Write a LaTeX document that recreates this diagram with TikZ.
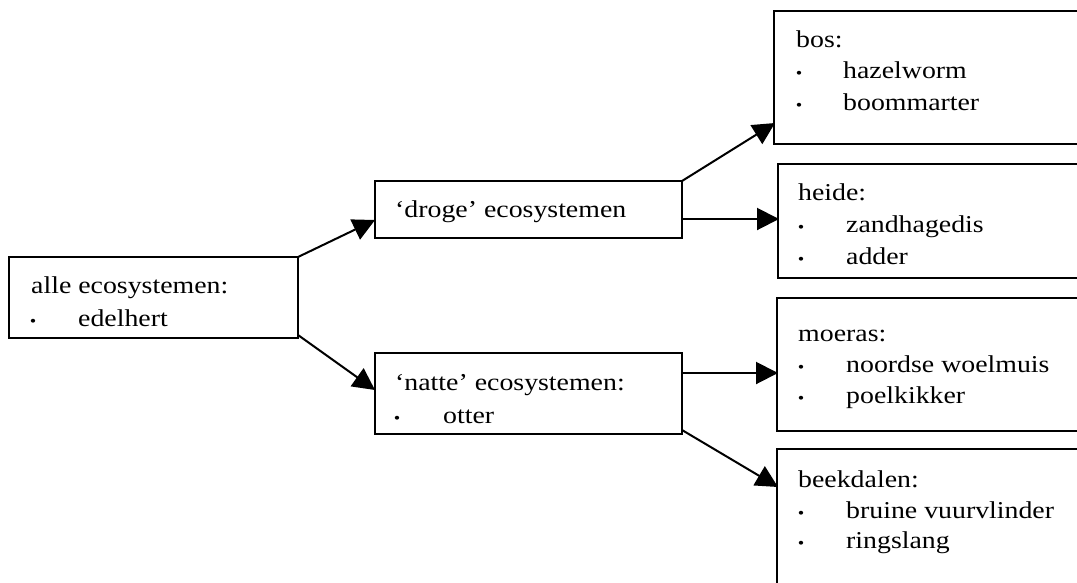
\documentclass[tikz,border=0pt]{standalone}
\usepackage{fontspec}
\setmainfont{Liberation Serif}[FakeStretch=1.15]
\usetikzlibrary{arrows.meta}
\tikzset{
  box/.style={draw=black, line width=2pt},
  lbl/.style={anchor=base west, inner sep=0pt, font=\fontsize{24.2}{28}\selectfont},
  bul/.style={anchor=base, inner sep=0pt, font=\fontsize{16}{16}\selectfont},
  arr/.style={line width=2pt, -{Triangle[length=22pt,width=22pt]}},
}
\begin{document}
\begin{tikzpicture}[x=1pt,y=-1pt]
\useasboundingbox (0,0) rectangle (1077,582);
\clip (0,0) rectangle (1077,582);
% boxes
\draw[box] (9,257) rectangle (298,338);
\draw[box] (375,181) rectangle (682,238);
\draw[box] (375,353) rectangle (682,434);
\draw[box] (774,11) rectangle (1090,144);
\draw[box] (778,164) rectangle (1090,278);
\draw[box] (777,298) rectangle (1090,431);
\draw[box] (777,449) rectangle (1090,600);
% anchor coordinates
\coordinate (aTR) at (298,257);
\coordinate (aBR) at (298,335);
\coordinate (bIn) at (375,220);
\coordinate (cIn) at (375,390);
\coordinate (bTR) at (682,181);
\coordinate (bR) at (682,219);
\coordinate (cR) at (682,373);
\coordinate (cBR) at (682,430);
\coordinate (bosIn) at (775,123);
\coordinate (heideIn) at (779,219);
\coordinate (moerasIn) at (778,373);
\coordinate (beekIn) at (778,487);
% texts
\node[lbl] (t1) at (31,293) {alle ecosystemen:};
\node[bul] (t1b) at (33,326) {•};
\node[lbl] (t1a) at (78,326) {edelhert};
\node[lbl] (t2) at (395,217) {‘droge’ ecosystemen};
\node[lbl] (t3) at (395,390) {‘natte’ ecosystemen:};
\node[bul] (t3b) at (397,423) {•};
\node[lbl] (t3a) at (443,423) {otter};
\node[lbl] (t4) at (796,47) {bos:};
\node[bul] (t4b1) at (799,78) {•};
\node[lbl] (t4a) at (843,78) {hazelworm};
\node[bul] (t4b2) at (799,110) {•};
\node[lbl] (t4c) at (843,110) {boommarter};
\node[lbl] (t5) at (798,200) {heide:};
\node[bul] (t5b1) at (801,232) {•};
\node[lbl] (t5a) at (846,232) {zandhagedis};
\node[bul] (t5b2) at (801,264) {•};
\node[lbl] (t5c) at (846,264) {adder};
\node[lbl] (t6) at (798,341) {moeras:};
\node[bul] (t6b1) at (801,372) {•};
\node[lbl] (t6a) at (846,372) {noordse woelmuis};
\node[bul] (t6b2) at (801,403) {•};
\node[lbl] (t6c) at (846,403) {poelkikker};
\node[lbl] (t7) at (798,487) {beekdalen:};
\node[bul] (t7b1) at (801,518) {•};
\node[lbl] (t7a) at (846,518) {bruine vuurvlinder};
\node[bul] (t7b2) at (801,548) {•};
\node[lbl] (t7c) at (846,548) {ringslang};
% arrows
\draw[arr] (aTR) -- (bIn);
\draw[arr] (aBR) -- (cIn);
\draw[arr] (bTR) -- (bosIn);
\draw[arr] (bR) -- (heideIn);
\draw[arr] (cR) -- (moerasIn);
\draw[arr] (cBR) -- (beekIn);
\end{tikzpicture}
\end{document}
